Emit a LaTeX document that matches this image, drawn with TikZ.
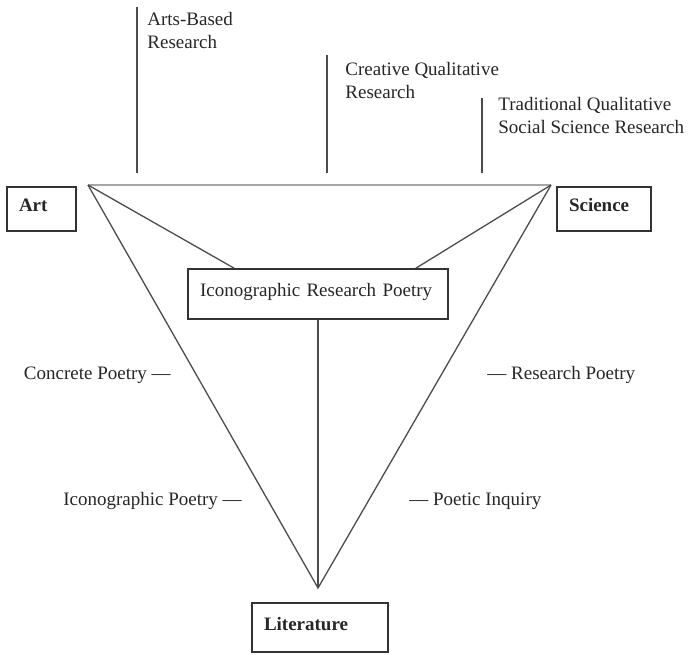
\documentclass[tikz,border=0pt]{standalone}
\usepackage{fontspec}
\setmainfont{Liberation Serif}
\usetikzlibrary{positioning}

\begin{document}
\begin{tikzpicture}[
    x=0.5pt, y=-0.5pt,
    every node/.style={font=\fontsize{9.5}{11.8}\selectfont, text=black!85},
    box/.style={draw=black!80, line width=0.7pt, inner xsep=6pt, inner ysep=0pt, align=left, text height=0.68em, text depth=0.4em, font=\fontsize{9.5}{11.8}\selectfont\bfseries},
    term/.style={inner sep=0pt, align=left},
    edge/.style={draw=black!70, line width=0.65pt},
    rim/.style={draw=black!35, line width=1pt},
]
\useasboundingbox (0,0) rectangle (689,654);

% --- corners of the triangle ---
\coordinate (artv) at (88,185);
\coordinate (sciv) at (551,185);
\coordinate (litv) at (318,588);

% --- boxes ---
\node[box, text width=22.5pt, minimum height=22pt] (art) at (41.5,209) {Art};
\node[box, text width=35pt, minimum height=22pt] (science) at (604,209) {Science};
\node[box, text width=56pt, minimum height=24.5pt] (literature) at (320,627.5) {Literature};
\node[box, text width=118pt, minimum height=25pt, font=\fontsize{9.5}{11.8}\selectfont] (irp) at (318,294) {Iconographic Research Poetry};

% --- triangle and spokes ---
\draw[rim] (artv) -- (sciv);
\draw[edge] (artv) -- (litv) -- (sciv);
\draw[edge] (artv) -- ([xshift=23.5pt]irp.north west);
\draw[edge] (sciv) -- ([xshift=-16.5pt]irp.north east);
\draw[edge] (irp.south) -- (litv);

% --- research traditions along the top ---
\coordinate (abr-top) at (137,7);
\coordinate (abr-bot) at (137,173);
\coordinate (cqr-top) at (327,55);
\coordinate (cqr-bot) at (327,173);
\coordinate (tqr-top) at (482,98);
\coordinate (tqr-bot) at (482,173);
\draw[edge] (abr-top) -- (abr-bot);
\draw[edge] (cqr-top) -- (cqr-bot);
\draw[edge] (tqr-top) -- (tqr-bot);
\node[term, anchor=north west] (abr) at (147,11.5) {Arts-Based\\Research};
\node[term, anchor=north west] (cqr) at (345,61.5) {Creative Qualitative\\Research};
\node[term, anchor=north west] (tqr) at (498,96.5) {Traditional Qualitative\\Social Science Research};

% --- poetry forms beside the triangle ---
\node[term, anchor=east] (concrete) at (171,375) {Concrete Poetry —};
\node[term, anchor=west] (rpoetry) at (487,375) {— Research Poetry};
\node[term, anchor=east] (icono) at (242,501) {Iconographic Poetry —};
\node[term, anchor=west] (inquiry) at (409,501) {— Poetic Inquiry};

\end{tikzpicture}
\end{document}
